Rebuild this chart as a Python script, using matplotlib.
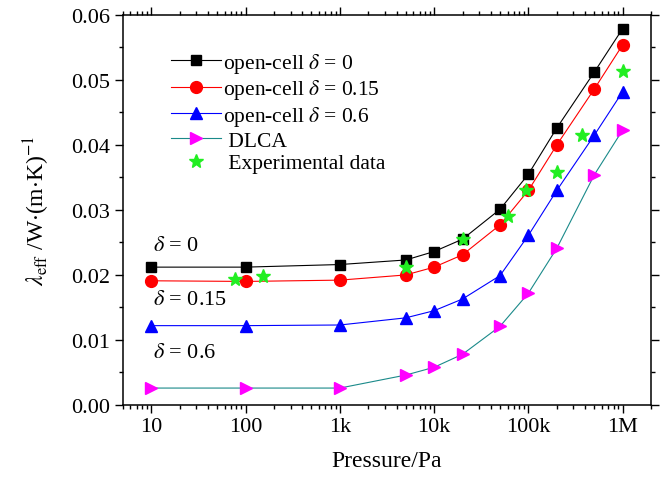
import numpy as np
import matplotlib
matplotlib.use('Agg')
from matplotlib import pyplot as plt
from matplotlib.ticker import FixedLocator, FixedFormatter, LogLocator, MultipleLocator, NullFormatter

plt.rcParams['font.family'] = 'Liberation Serif'
plt.rcParams['mathtext.fontset'] = 'stix'

pressure = [10, 100, 1e3, 5e3, 1e4, 2e4, 5e4, 1e5, 2e5, 5e5, 1e6]

k_d0 = [0.0212, 0.0212, 0.0216, 0.0223, 0.0236, 0.0255, 0.0301, 0.0355, 0.0426, 0.0512, 0.0579]
k_d015 = [0.0191, 0.0190, 0.0192, 0.0200, 0.0212, 0.0231, 0.0277, 0.0330, 0.0400, 0.0486, 0.0554]
k_d06 = [0.0122, 0.0122, 0.0123, 0.0134, 0.0145, 0.0163, 0.0199, 0.0261, 0.0330, 0.0415, 0.0482]
k_dlca = [0.0026, 0.0026, 0.0026, 0.0046, 0.0058, 0.0078, 0.0121, 0.0172, 0.0241, 0.0354, 0.0423]

p_exp = [78, 153, 5e3, 2e4, 6e4, 9.5e4, 2e5, 3.66e5, 1e6]
k_exp = [0.0193, 0.0199, 0.0212, 0.0255, 0.0290, 0.0330, 0.0358, 0.0416, 0.0514]

xtick_vals = [10, 100, 1e3, 1e4, 1e5, 1e6]
xtick_labels = ['10', '100', '1k', '10k', '100k', '1M']

fig = plt.figure(figsize=(6.61, 4.81), dpi=100)
ax = fig.add_axes([0.186, 0.156, 0.799, 0.811])

ax.plot(pressure, k_d0, '-s', color='black', lw=0.8, ms=7.5, label=r'open-cell $\delta$ = 0')
ax.plot(pressure, k_d015, '-o', color='red', mfc='red', mec='red', lw=0.8, ms=8.5,
        label=r'open-cell $\delta$ = 0.15')
ax.plot(pressure, k_d06, '-^', color='blue', lw=0.8, ms=9, label=r'open-cell $\delta$ = 0.6')
ax.plot(pressure, k_dlca, '->', color='#1a8a8a', mfc='magenta', mec='magenta', lw=0.8, ms=9,
        label=' DLCA')
ax.plot(p_exp, k_exp, '*', color='#22ee22', mec='#22ee22', ms=10, ls='none',
        label=' Experimental data')

ax.set_xscale('log')
ax.set_xlim(5, 2e6)
ax.set_ylim(0, 0.06)

ax.xaxis.set_major_locator(FixedLocator(xtick_vals))
ax.xaxis.set_major_formatter(FixedFormatter(xtick_labels))
ax.xaxis.set_minor_locator(LogLocator(base=10, subs=np.arange(2, 10), numticks=20))
ax.xaxis.set_minor_formatter(NullFormatter())
ax.yaxis.set_major_locator(MultipleLocator(0.01))
ax.yaxis.set_minor_locator(MultipleLocator(0.005))
ax.yaxis.set_major_formatter(matplotlib.ticker.FormatStrFormatter('%.2f'))

ax.tick_params(which='both', direction='out', top=True, right=True, labelsize=16, width=1)
ax.tick_params(which='major', length=6, pad=3)
ax.tick_params(which='minor', length=3)
for s in ax.spines.values():
    s.set_linewidth(1.1)

ax.text(10.3, 0.0245, r'$\delta$ = 0', fontsize=16, va='center')
ax.text(10.3, 0.0162, r'$\delta$ = 0.15', fontsize=16, va='center')
ax.text(10.3, 0.0080, r'$\delta$ = 0.6', fontsize=16, va='center')

ax.set_xlabel('Pressure/Pa', fontsize=17, labelpad=10)
ax.set_ylabel(r'$\lambda_{\mathrm{eff}}$ /W$\cdot$(m$\cdot$K)$^{-1}$', fontsize=17, labelpad=14)

ax.legend(loc='upper left', bbox_to_anchor=(0.075, 0.93), frameon=False, fontsize=15.5,
          handlelength=2.3, handletextpad=0.1, labelspacing=0.12, borderaxespad=0)

fig.savefig('out.png', dpi=100)
